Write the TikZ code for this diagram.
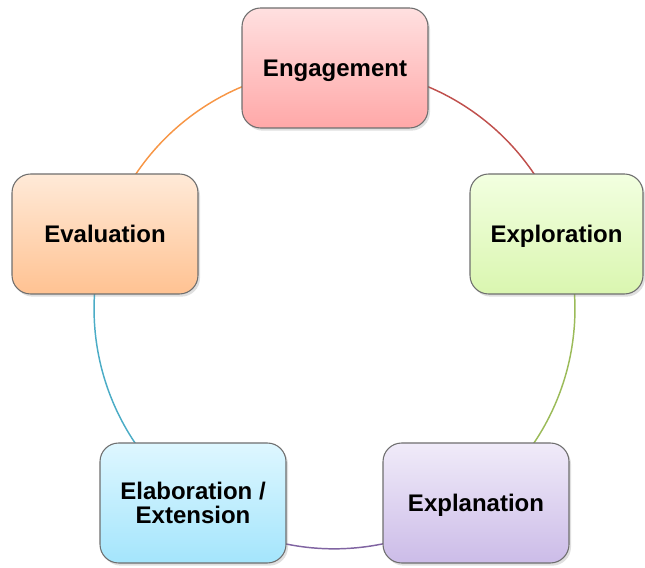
\documentclass[tikz,border=0pt]{standalone}
\usepackage{fontspec}
\setmainfont{Liberation Sans}
\usepackage{tikz}
\usetikzlibrary{shapes,arrows,positioning,calc,shadows}

\definecolor{engtop}{RGB}{255,224,224}
\definecolor{engbot}{RGB}{255,168,168}
\definecolor{exptop}{RGB}{242,255,224}
\definecolor{expbot}{RGB}{218,246,176}
\definecolor{expntop}{RGB}{240,235,249}
\definecolor{expnbot}{RGB}{204,188,232}
\definecolor{elabtop}{RGB}{222,247,255}
\definecolor{elabbot}{RGB}{164,229,252}
\definecolor{evaltop}{RGB}{255,234,216}
\definecolor{evalbot}{RGB}{255,194,146}
\definecolor{arcred}{RGB}{192,80,77}
\definecolor{arcgreen}{RGB}{155,187,89}
\definecolor{arcpurple}{RGB}{128,100,162}
\definecolor{arcaqua}{RGB}{75,172,198}
\definecolor{arcorange}{RGB}{247,150,70}
\definecolor{boxline}{RGB}{110,110,110}

\pgfdeclarelayer{background}
\pgfsetlayers{background,main}

\begin{document}
\begin{tikzpicture}[x=0.75pt, y=0.75pt]
    % Define styles
    \tikzstyle{phase} = [rectangle, rounded corners=14pt, minimum width=139.5pt, minimum height=90pt, text centered, align=center, draw=boxline, line width=0.8pt, font=\bfseries\fontsize{18}{18.5}\selectfont, drop shadow={shadow xshift=1.5pt, shadow yshift=-2pt, opacity=0.25}]
    \tikzstyle{oneline} = [text height=13pt, text depth=0pt]
    \tikzstyle{cycle} = [line width=1.1pt]

    \useasboundingbox (0,0) rectangle (645,567);

    % Nodes
    \node [phase, oneline, top color=engtop, bottom color=engbot] (eng) at (335,499) {Engagement};
    \node [phase, oneline, top color=exptop, bottom color=expbot, minimum width=129.75pt] (explo) at (556.5,333) {Exploration};
    \node [phase, oneline, top color=expntop, bottom color=expnbot] (expn) at (476,64) {Explanation};
    \node [phase, top color=elabtop, bottom color=elabbot] (elab) at (193,64) {Elaboration /\\Extension};
    \node [phase, oneline, top color=evaltop, bottom color=evalbot] (eval) at (105,333) {Evaluation};

    % Arcs
    \begin{pgfonlayer}{background}
    \draw [cycle, arcred] (eng.center) arc[start angle=90, end angle=18, radius=180pt];
    \draw [cycle, arcgreen] (expn.center) arc[start angle=-54, end angle=18, radius=180pt];
    \draw [cycle, arcpurple] (elab.center) arc[start angle=-126, end angle=-54, radius=180pt];
    \draw [cycle, arcaqua] (elab.center) arc[start angle=234, end angle=162, radius=180pt];
    \draw [cycle, arcorange] (eng.center) arc[start angle=90, end angle=162, radius=180pt];
    \end{pgfonlayer}
\end{tikzpicture}
\end{document}
